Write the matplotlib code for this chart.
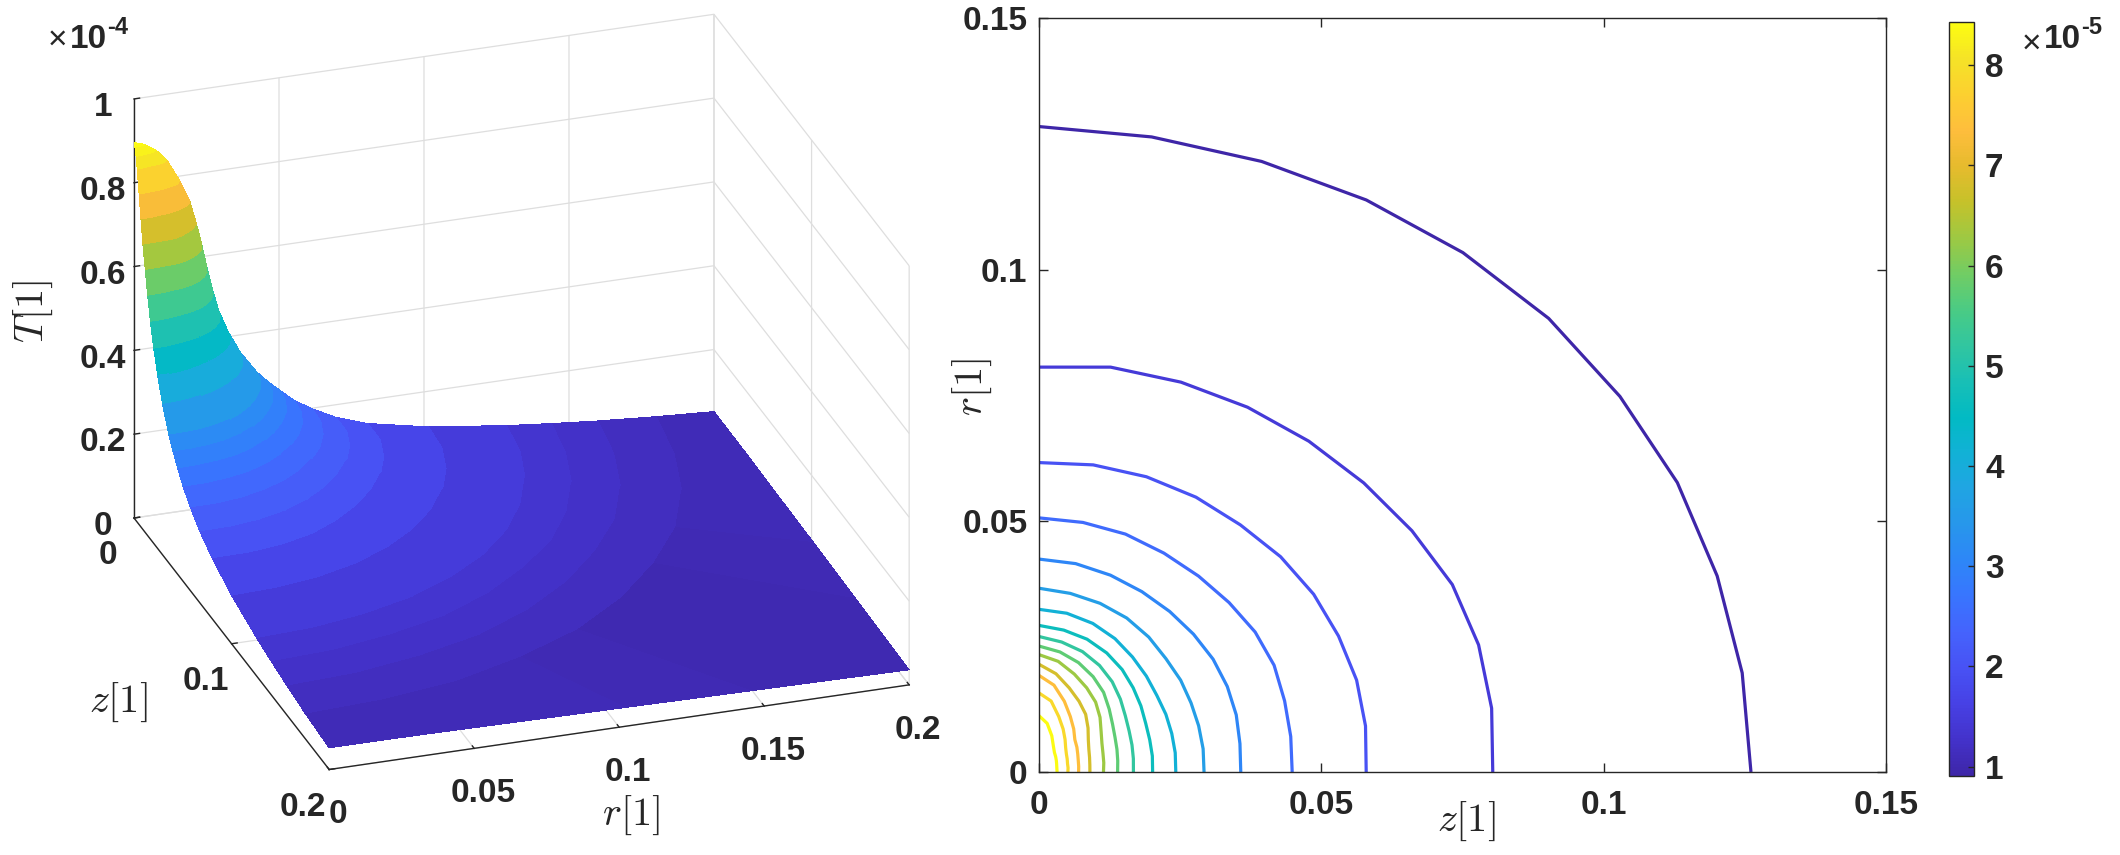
import numpy as np
import matplotlib
matplotlib.use('Agg')
import matplotlib.pyplot as plt
from matplotlib.cm import ScalarMappable
from matplotlib.colors import LinearSegmentedColormap, Normalize
from mpl_toolkits.mplot3d import proj3d

plt.rcParams['font.family'] = ['Liberation Sans', 'DejaVu Sans']
plt.rcParams['font.weight'] = 'bold'
plt.rcParams['axes.edgecolor'] = '#262626'
plt.rcParams['grid.color'] = '#dedede'
plt.rcParams['grid.linewidth'] = 0.9

DARK = '#262626'

# angle measured from the z axis, degrees
angles = [0, 9, 18, 27, 36, 45, 54, 63, 72, 81, 90]

# T in units of 1e-5 for each row of radii below
row_T = [8.96, 8.88, 8.70, 8.43, 7.89, 7.35, 6.81, 6.28, 5.74, 5.20, 4.66, 4.13,
         3.59, 3.05, 2.78, 2.52, 2.25, 1.98, 1.70, 1.44, 1.15, 0.907, 0.80, 0.70, 0.60]

# radius of each T row at each angle
row_R = [
    [0.0000, 0.0000, 0.0000, 0.0000, 0.0000, 0.0000, 0.0000, 0.0000, 0.0000, 0.0000, 0.0000],
    [0.0010, 0.0010, 0.0010, 0.0011, 0.0012, 0.0013, 0.0015, 0.0018, 0.0024, 0.0031, 0.0036],
    [0.0022, 0.0022, 0.0023, 0.0024, 0.0026, 0.0029, 0.0032, 0.0039, 0.0051, 0.0065, 0.0076],
    [0.0033, 0.0033, 0.0034, 0.0036, 0.0039, 0.0043, 0.0048, 0.0058, 0.0076, 0.0098, 0.0113],
    [0.0052, 0.0053, 0.0054, 0.0057, 0.0061, 0.0068, 0.0080, 0.0096, 0.0116, 0.0143, 0.0158],
    [0.0071, 0.0072, 0.0074, 0.0078, 0.0084, 0.0091, 0.0106, 0.0124, 0.0148, 0.0175, 0.0193],
    [0.0091, 0.0092, 0.0095, 0.0100, 0.0109, 0.0124, 0.0142, 0.0158, 0.0176, 0.0198, 0.0215],
    [0.0115, 0.0117, 0.0120, 0.0126, 0.0137, 0.0154, 0.0172, 0.0188, 0.0205, 0.0223, 0.0234],
    [0.0140, 0.0142, 0.0146, 0.0152, 0.0162, 0.0177, 0.0196, 0.0213, 0.0229, 0.0242, 0.0251],
    [0.0168, 0.0170, 0.0174, 0.0180, 0.0190, 0.0205, 0.0222, 0.0238, 0.0252, 0.0262, 0.0270],
    [0.0202, 0.0204, 0.0207, 0.0213, 0.0224, 0.0237, 0.0252, 0.0266, 0.0278, 0.0286, 0.0292],
    [0.0243, 0.0245, 0.0248, 0.0253, 0.0259, 0.0270, 0.0283, 0.0298, 0.0311, 0.0320, 0.0324],
    [0.0293, 0.0295, 0.0298, 0.0303, 0.0311, 0.0319, 0.0332, 0.0344, 0.0353, 0.0360, 0.0366],
    [0.0358, 0.0361, 0.0368, 0.0375, 0.0382, 0.0388, 0.0395, 0.0403, 0.0412, 0.0420, 0.0424],
    [0.0402, 0.0405, 0.0412, 0.0420, 0.0426, 0.0431, 0.0437, 0.0444, 0.0453, 0.0459, 0.0463],
    [0.0449, 0.0452, 0.0458, 0.0468, 0.0474, 0.0477, 0.0482, 0.0489, 0.0498, 0.0503, 0.0506],
    [0.0505, 0.0510, 0.0516, 0.0524, 0.0530, 0.0535, 0.0538, 0.0544, 0.0551, 0.0554, 0.0552],
    [0.0580, 0.0586, 0.0592, 0.0596, 0.0602, 0.0606, 0.0608, 0.0614, 0.0618, 0.0619, 0.0616],
    [0.0677, 0.0683, 0.0689, 0.0693, 0.0695, 0.0697, 0.0698, 0.0702, 0.0705, 0.0705, 0.0696],
    [0.0804, 0.0812, 0.0819, 0.0822, 0.0817, 0.0814, 0.0814, 0.0815, 0.0816, 0.0816, 0.0806],
    [0.1005, 0.1007, 0.1012, 0.1016, 0.1017, 0.1018, 0.1019, 0.1019, 0.1020, 0.1020, 0.1015],
    [0.1261, 0.1261, 0.1263, 0.1269, 0.1272, 0.1277, 0.1278, 0.1278, 0.1278, 0.1280, 0.1285],
    [0.1410, 0.1410, 0.1410, 0.1420, 0.1420, 0.1420, 0.1430, 0.1430, 0.1430, 0.1430, 0.1440],
    [0.1570, 0.1570, 0.1570, 0.1580, 0.1580, 0.1580, 0.1580, 0.1590, 0.1590, 0.1590, 0.1600],
    [0.1760, 0.1760, 0.1770, 0.1770, 0.1780, 0.1780, 0.1780, 0.1790, 0.1790, 0.1790, 0.1800],
]

# outer edge of the square domain
edge_R = [0.2000, 0.2025, 0.2103, 0.2245, 0.2472, 0.2828, 0.2472, 0.2245, 0.2103, 0.2025, 0.2000]
edge_T = [0.52, 0.51, 0.48, 0.45, 0.41, 0.36, 0.41, 0.45, 0.48, 0.51, 0.52]

contour_levels = [0.907, 1.44, 1.98, 2.52, 3.05, 3.59, 4.13, 4.66, 5.20, 5.74,
                  6.28, 6.81, 7.35, 7.89, 8.43]

r_ticks = [0, 0.05, 0.1, 0.15, 0.2]
r_tick_labels = ['0', '0.05', '0.1', '0.15', '0.2']
z_ticks = [0, 0.1, 0.2]
z_tick_labels = ['0', '0.1', '0.2']
T_ticks = [0, 2, 4, 6, 8, 10]
T_tick_labels = ['0', '0.2', '0.4', '0.6', '0.8', '1']
map_ticks = [0, 0.05, 0.1, 0.15]
map_tick_labels = ['0', '0.05', '0.1', '0.15']
cbar_ticks = [1, 2, 3, 4, 5, 6, 7, 8]

parula_colors = [
    (0.2422, 0.1504, 0.6603), (0.2647, 0.1978, 0.7952), (0.2783, 0.2559, 0.8991),
    (0.2810, 0.3228, 0.9579), (0.2699, 0.3892, 0.9906), (0.2206, 0.4603, 0.9973),
    (0.1786, 0.5289, 0.9682), (0.1540, 0.5902, 0.9218), (0.1248, 0.6459, 0.8883),
    (0.0689, 0.6948, 0.8394), (0.0067, 0.7312, 0.7660), (0.0964, 0.7500, 0.7120),
    (0.1938, 0.7758, 0.6251), (0.2906, 0.7973, 0.5188), (0.4456, 0.8024, 0.3909),
    (0.6174, 0.7876, 0.2612), (0.7738, 0.7598, 0.1646), (0.9035, 0.7330, 0.1774),
    (0.9956, 0.7434, 0.2371), (0.9892, 0.8136, 0.1885), (0.9610, 0.8890, 0.1537),
    (0.9900, 0.9900, 0.0700),
]
parula = LinearSegmentedColormap.from_list('parula', parula_colors, N=256)

# mesh in polar form, shared by the surface and the contours
phi = np.radians(angles)
R = np.array(row_R + [edge_R])
T = np.vstack([np.outer(row_T, np.ones(len(angles))), edge_T])
Z_mesh = R * np.cos(phi)
R_mesh = R * np.sin(phi)

fig = plt.figure(figsize=(21.2, 8.55), dpi=100)
W, H = fig.get_size_inches() * fig.dpi

# ---- left: surface ----
ax3 = fig.add_axes([0.0, -0.2, 0.58, 1.4], projection='3d', proj_type='ortho',
                   computed_zorder=True)
ax3.patch.set_visible(False)
ax3.set_xlim(0, 0.2, view_margin=0)
ax3.set_ylim(0.2, 0, view_margin=0)
ax3.set_zlim(0, 10, view_margin=0)
ax3.view_init(elev=25.7, azim=-108.6)
box = (1.0, 1.0, 0.76)
ax3.set_box_aspect(box, zoom=1.0)

ax3.plot_surface(R_mesh, Z_mesh, T, cmap=parula, vmin=min(edge_T), vmax=max(row_T),
                 rstride=1, cstride=1, linewidth=0, antialiased=False, shade=False)

ax3.set_xticks(r_ticks, r_tick_labels)
ax3.set_yticks(z_ticks, z_tick_labels)
ax3.set_zticks(T_ticks, T_tick_labels)
ax3.tick_params(axis='both', labelsize=24, labelcolor=DARK, colors=DARK)
ax3.tick_params(axis='x', pad=12)
ax3.tick_params(axis='y', pad=12)
ax3.tick_params(axis='z', pad=10)
for axis in (ax3.xaxis, ax3.yaxis, ax3.zaxis):
    axis.set_pane_color((1, 1, 1, 0))
    axis.pane.set_edgecolor('#dedede')
    axis.line.set_color(DARK)
    axis.line.set_linewidth(1.0)
    axis._axinfo['tick']['inward_factor'] = 0.0
    axis._axinfo['tick']['outward_factor'] = 0.12
    axis._axinfo['tick']['linewidth'] = {True: 1.0, False: 0.5}
    axis._axinfo['tick']['color'] = DARK

# place the box so its corners land where they are in the reference
target_O = np.array([134.0, H - 518.0])
target_R = np.array([714.0, H - 433.5])


def corner_px(x, y, z):
    ax3.apply_aspect()
    xs, ys, _ = proj3d.proj_transform(x, y, z, ax3.get_proj())
    return ax3.transData.transform((xs, ys))


zoom = 1.0
for _ in range(3):
    p0 = corner_px(0, 0, 0)
    p1 = corner_px(0.2, 0, 0)
    zoom *= np.linalg.norm(target_R - target_O) / np.linalg.norm(p1 - p0)
    ax3.set_box_aspect(box, zoom=zoom)
    p0 = corner_px(0, 0, 0)
    pos = ax3.get_position(original=True)
    ax3.set_position([pos.x0 + (target_O[0] - p0[0]) / W, pos.y0 + (target_O[1] - p0[1]) / H,
                      pos.width, pos.height])

# ---- right: contours ----
ax2 = fig.add_axes([1038.5 / W, 1 - 772 / H, 847.5 / W, 753.5 / H])
contour_norm = Normalize(vmin=min(contour_levels), vmax=max(contour_levels))
ax2.contour(Z_mesh, R_mesh, T, levels=contour_levels, cmap=parula, norm=contour_norm,
            linewidths=2.3)
ax2.set_xlim(0, 0.15)
ax2.set_ylim(0, 0.15)
ax2.set_xticks(map_ticks, map_tick_labels)
ax2.set_yticks(map_ticks, map_tick_labels)
ax2.tick_params(axis='both', direction='in', top=True, right=True, length=6.5, width=1.0,
                labelsize=24, labelcolor=DARK, color=DARK)
ax2.tick_params(axis='x', pad=13)
ax2.tick_params(axis='y', pad=8)
ax2.set_facecolor('none')
for spine in ax2.spines.values():
    spine.set_linewidth(1.0)

# ---- colorbar ----
cax = fig.add_axes([1948.5 / W, 1 - 776 / H, 25.5 / W, 754 / H])
cb = fig.colorbar(ScalarMappable(norm=Normalize(0.907, 8.43), cmap=parula), cax=cax,
                  ticks=cbar_ticks)
cb.ax.tick_params(direction='in', length=4, width=1.0, labelsize=24, labelcolor=DARK,
                  color=DARK, pad=8)
cb.ax.set_yticklabels([str(t) for t in cbar_ticks])
cb.outline.set_linewidth(1.0)
cb.outline.set_edgecolor(DARK)

# ---- labels and multipliers ----
def px_text(x, y, s, **kw):
    return fig.text(x / W, 1 - y / H, s, ha='center', va='center', **kw)


label_kw = dict(math_fontfamily='cm', fontsize=29, color=DARK, fontweight='normal')
px_text(33, 311, r'$T[1]$', rotation=90, **label_kw)
px_text(118, 702, r'$z[1]$', **label_kw)
px_text(631, 815, r'$r[1]$', **label_kw)
px_text(1466, 821, r'$z[1]$', **label_kw)
px_text(972, 387, r'$r[1]$', rotation=90, **label_kw)

px_text(57, 40, '\u00d7', fontsize=24, color=DARK, fontweight='normal')
px_text(88, 40, '10', fontsize=24, color=DARK)
px_text(118, 28, '-4', fontsize=17, color=DARK)
px_text(2031, 44, '\u00d7', fontsize=24, color=DARK, fontweight='normal')
px_text(2062, 40, '10', fontsize=24, color=DARK)
px_text(2092, 28, '-5', fontsize=17, color=DARK)

fig.savefig('out.png', dpi=100)
